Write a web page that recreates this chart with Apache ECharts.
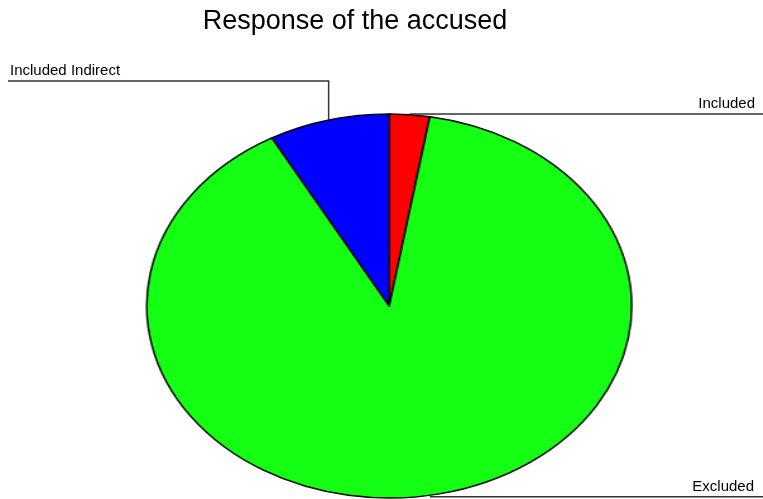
<!DOCTYPE html>
<html>
<head>
<meta charset="utf-8">
<script src="https://cdn.jsdelivr.net/npm/echarts@6/dist/echarts.min.js"></script>
<style>
  html, body { margin:0; padding:0; background:#ffffff; width:763px; height:499px; overflow:hidden; }
  #pie { position:absolute; left:0; top:0; width:763px; height:499px; transform-origin:389.2px 306px; transform:scaleX(1.263); }
  #chart { position:absolute; left:0; top:0; width:763px; height:499px; }
</style>
</head>
<body>
<div id="pie"></div>
<div id="chart"></div>
<script>
// ---- data ----
const titleText = 'Response of the accused';
const categories = ['Included', 'Excluded', 'Included Indirect'];
const values = [3, 100, 9];
const sliceColors = ['#ff0000', '#14ff14', '#0000ff'];

// ---- layout (ellipse geometry) ----
const CX = 389.2, CY = 306, RY = 192, RX = 242.5;

const pie = echarts.init(document.getElementById('pie'), null, { renderer: 'canvas' });
pie.setOption({
  animation: false,
  series: [{
    type: 'pie',
    silent: true,
    center: [CX, CY],
    radius: RY,
    startAngle: 90,
    clockwise: true,
    label: { show: false },
    labelLine: { show: false },
    itemStyle: { borderColor: '#000000', borderWidth: 1.4 },
    data: categories.map((c, i) => ({ name: c, value: values[i], itemStyle: { color: sliceColors[i] } }))
  }]
});

// anchor points on the ellipse at each slice's middle angle
const total = values.reduce((a, b) => a + b, 0);
let cum = 0;
const anchors = values.map(v => {
  const mid = (cum + v / 2) / total * 2 * Math.PI;
  cum += v;
  return [CX + RX * Math.sin(mid), CY - RY * Math.cos(mid)];
});

const font = '15px "Liberation Sans", Arial, sans-serif';
const lineStyle = { stroke: '#333333', lineWidth: 1.5, fill: null };
const a0 = anchors[0], a1 = anchors[1], a2 = anchors[2];

const chart = echarts.init(document.getElementById('chart'), null, { renderer: 'canvas' });
chart.setOption({
  backgroundColor: 'transparent',
  animation: false,
  title: {
    text: titleText,
    left: 355, top: 8, padding: 0,
    textAlign: 'center',
    textStyle: { fontFamily: '"Liberation Sans", Arial, sans-serif', fontSize: 27, fontWeight: 'normal', color: '#000000' }
  },
  graphic: [
    // Included
    { type: 'polyline', silent: true, shape: { points: [[a0[0], 114], [763, 114]] }, style: lineStyle },
    { type: 'text', silent: true, style: { text: categories[0], x: 755, y: 111, textAlign: 'right', textVerticalAlign: 'bottom', font: font, fill: '#000000' } },
    // Excluded
    { type: 'polyline', silent: true, shape: { points: [[a1[0], a1[1] + 1.5], [763, a1[1] + 1.5]] }, style: lineStyle },
    { type: 'text', silent: true, style: { text: categories[1], x: 754, y: 494, textAlign: 'right', textVerticalAlign: 'bottom', font: font, fill: '#000000' } },
    // Included Indirect
    { type: 'polyline', silent: true, shape: { points: [[a2[0], a2[1]], [a2[0], 81], [8, 81]] }, style: lineStyle },
    { type: 'text', silent: true, style: { text: categories[2], x: 10, y: 78, textAlign: 'left', textVerticalAlign: 'bottom', font: font, fill: '#000000' } }
  ]
});
</script>
</body>
</html>
